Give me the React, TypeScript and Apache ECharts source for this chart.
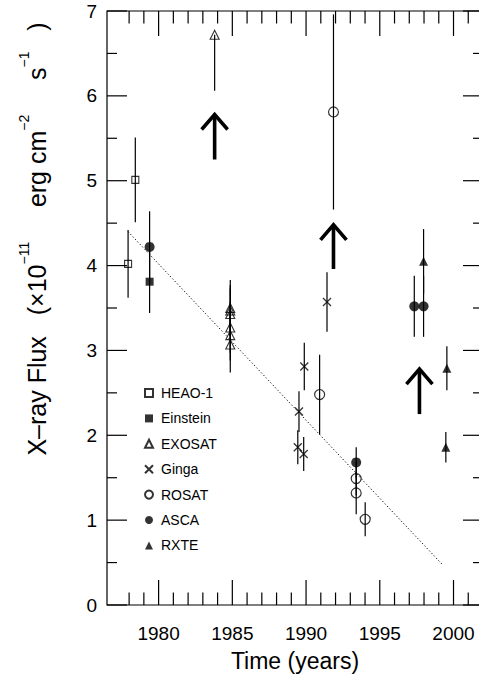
import React, { useEffect, useRef } from "react";
import * as echarts from "echarts";

const FONT = "'Liberation Sans', Arial, Helvetica, sans-serif";

const heaoYears = [1977.93, 1978.42];
const heaoValues = [4.02, 5.01];
const heaoErrors = [0.4, 0.5];

const einsteinYears = [1979.39];
const einsteinValues = [3.81];
const einsteinErrors = [0.37];

const exosatYears = [1983.8, 1984.86, 1984.86, 1984.86, 1984.86, 1984.86, 1984.86];
const exosatValues = [6.72, 3.5, 3.47, 3.43, 3.27, 3.18, 3.07];
const exosatErrors = [0.66, 0.33, 0.3, 0.3, 0.3, 0.3, 0.33];
const exosatErrorsUp = [0, 0.33, 0.3, 0.3, 0.3, 0.3, 0.33];

const gingaYears = [1991.42, 1989.88, 1989.52, 1989.44, 1989.84];
const gingaValues = [3.57, 2.81, 2.28, 1.86, 1.78];
const gingaErrors = [0.35, 0.28, 0.24, 0.2, 0.2];

const rosatYears = [1991.86, 1990.92, 1993.4, 1993.4, 1994.01];
const rosatValues = [5.81, 2.48, 1.49, 1.32, 1.01];
const rosatErrors = [1.15, 0.47, 0.2, 0.25, 0.2];

const ascaYears = [1979.39, 1993.4, 1997.34, 1997.97];
const ascaValues = [4.22, 1.68, 3.52, 3.52];
const ascaErrors = [0.42, 0.18, 0.36, 0.36];

const rxteYears = [1997.97, 1999.55, 1999.48];
const rxteValues = [4.05, 2.79, 1.86];
const rxteErrors = [0.38, 0.26, 0.18];

const arrowYears = [1983.8, 1991.86, 1997.69];
const arrowTips = [5.78, 4.48, 2.78];
const arrowTails = [5.25, 3.96, 2.25];

const trendYears = [1977.93, 1999.28];
const trendValues = [4.4, 0.47];

const X_MIN = 1976.5;
const X_MAX = 2002;
const Y_MIN = 0;
const Y_MAX = 7;
const xMajorTicks = [1980, 1985, 1990, 1995, 2000];
const xMinorTicks = [1978, 1979, 1981, 1982, 1983, 1984, 1986, 1987, 1988, 1989, 1991, 1992, 1993, 1994, 1996, 1997, 1998, 1999, 2001];
const yMajorTicks = [0, 1, 2, 3, 4, 5, 6, 7];
const yMinorTicks = [0.5, 1.5, 2.5, 3.5, 4.5, 5.5, 6.5];

const instruments = [
  { name: "HEAO-1", years: heaoYears, values: heaoValues, errors: heaoErrors, errorsUp: heaoErrors },
  { name: "Einstein", years: einsteinYears, values: einsteinValues, errors: einsteinErrors, errorsUp: einsteinErrors },
  { name: "EXOSAT", years: exosatYears, values: exosatValues, errors: exosatErrors, errorsUp: exosatErrorsUp },
  { name: "Ginga", years: gingaYears, values: gingaValues, errors: gingaErrors, errorsUp: gingaErrors },
  { name: "ROSAT", years: rosatYears, values: rosatValues, errors: rosatErrors, errorsUp: rosatErrors },
  { name: "ASCA", years: ascaYears, values: ascaValues, errors: ascaErrors, errorsUp: ascaErrors },
  { name: "RXTE", years: rxteYears, values: rxteValues, errors: rxteErrors, errorsUp: rxteErrors },
];

const HOLLOW = "rgba(0,0,0,0)";
const symbolStyles: Record<string, any> = {
  "HEAO-1": { symbol: "rect", symbolSize: 7, itemStyle: { color: HOLLOW, borderColor: "#000", borderWidth: 1.1 } },
  Einstein: { symbol: "rect", symbolSize: 8, itemStyle: { color: "#000" } },
  EXOSAT: { symbol: "triangle", symbolSize: 9, itemStyle: { color: HOLLOW, borderColor: "#000", borderWidth: 1.1 } },
  Ginga: { symbol: "path://M0,0L10,10M10,0L0,10", symbolSize: 8, itemStyle: { color: HOLLOW, borderColor: "#000", borderWidth: 1.3 } },
  ROSAT: { symbol: "circle", symbolSize: 10, itemStyle: { color: HOLLOW, borderColor: "#000", borderWidth: 1.2 } },
  ASCA: { symbol: "circle", symbolSize: 10, itemStyle: { color: "#000" } },
  RXTE: { symbol: "triangle", symbolSize: 9, itemStyle: { color: "#000" } },
};

// plot size in pixels (grid left 107, right -4, top 11, bottom 72 in a 479x677 chart)
const PLOT_W = 479 - 107 + 4;
const PLOT_H = 677 - 11 - 72;

export default function App() {
  const ref = useRef<HTMLDivElement>(null);

  useEffect(() => {
    if (!ref.current) return;
    const chart = echarts.init(ref.current, null, { renderer: "svg" });

    // tick lengths converted from pixels into axis units
    const yPerPx = (Y_MAX - Y_MIN) / PLOT_H;
    const xPerPx = (X_MAX - X_MIN) / PLOT_W;

    // vertical segments: [x, lo, hi]
    const vSegs: number[][] = [];
    instruments.forEach((ins) => {
      ins.years.forEach((yr, i) => {
        vSegs.push([yr, ins.values[i] - ins.errors[i], ins.values[i] + ins.errorsUp[i]]);
      });
    });
    [...xMajorTicks, ...xMinorTicks].forEach((v) => {
      const len = (xMajorTicks.indexOf(v) >= 0 ? 25 : 12.5) * yPerPx;
      vSegs.push([v, Y_MIN, Y_MIN + len]);
      vSegs.push([v, Y_MAX - len, Y_MAX]);
    });
    // horizontal segments: [y, lo, hi]
    const hSegs: number[][] = [];
    [...yMajorTicks, ...yMinorTicks].forEach((v) => {
      const len = (yMajorTicks.indexOf(v) >= 0 ? 20 : 10) * xPerPx;
      hSegs.push([X_MIN, X_MIN + len, v]);
      hSegs.push([X_MAX - len, X_MAX, v]);
    });

    const arrowData = arrowYears.map((yr, i) => [yr, arrowTips[i], arrowTails[i]]);
    const trendData = trendYears.map((yr, i) => [yr, trendValues[i]]);

    const option: any = {
      animation: false,
      backgroundColor: "#fff",
      textStyle: { fontFamily: FONT },
      grid: {
        left: 107,
        right: -4,
        top: 11,
        bottom: 72,
        show: true,
        borderColor: "#000",
        borderWidth: 1.2,
        backgroundColor: "transparent",
        outerBoundsMode: "none",
        containLabel: false,
      },
      xAxis: {
        type: "value",
        min: X_MIN,
        max: X_MAX,
        splitLine: { show: false },
        axisLine: { show: false },
        axisTick: { show: false },
        axisLabel: {
          show: true,
          customValues: xMajorTicks,
          formatter: (v: number) => String(v),
          fontSize: 19,
          color: "#000",
          margin: 19,
          fontFamily: FONT,
        },
        name: "Time (years)",
        nameLocation: "middle",
        nameGap: 44,
        nameTextStyle: { fontSize: 23, color: "#000", fontFamily: FONT },
      },
      yAxis: {
        type: "value",
        min: Y_MIN,
        max: Y_MAX,
        splitLine: { show: false },
        axisLine: { show: false },
        axisTick: { show: false },
        axisLabel: {
          show: true,
          customValues: yMajorTicks,
          formatter: (v: number) => String(v),
          fontSize: 19,
          color: "#000",
          margin: 10,
          fontFamily: FONT,
        },
      },
      legend: {
        orient: "vertical",
        left: 144,
        top: 385,
        padding: 0,
        itemWidth: 8,
        itemHeight: 8,
        itemGap: 9.4,
        data: instruments.map((i) => i.name),
        textStyle: { fontSize: 14, color: "#000", fontFamily: FONT, lineHeight: 16, padding: [0, 0, 0, 3] },
        selectedMode: false,
      },
      graphic: [
        {
          type: "text",
          x: 33,
          y: 239,
          rotation: Math.PI / 2,
          style: {
            text: "{n|X\u2013ray Flux   (\u00d710}{s|\u221211}{n|     erg cm}{s|\u22122}{n|     s}{s|\u22121}{n|   )}",
            align: "center",
            verticalAlign: "middle",
            fill: "#000",
            rich: {
              n: { fontSize: 25, fontFamily: FONT, fill: "#000", lineHeight: 32, verticalAlign: "bottom" },
              s: { fontSize: 14, fontFamily: FONT, fill: "#000", lineHeight: 32, verticalAlign: "top" },
            },
          },
        },
      ],
      series: [
        {
          type: "custom",
          name: "vsegments",
          z: 2,
          silent: true,
          encode: { x: 0, y: [1, 2] },
          data: vSegs,
          renderItem: (params: any, api: any) => {
            const cs = params.coordSys;
            const lo = api.coord([api.value(0), api.value(1)]);
            const hi = api.coord([api.value(0), api.value(2)]);
            const top = Math.max(hi[1], cs.y);
            const bot = Math.min(lo[1], cs.y + cs.height);
            return {
              type: "line",
              shape: { x1: lo[0], y1: bot, x2: hi[0], y2: top },
              style: { stroke: "#000", lineWidth: 1.2 },
            };
          },
        },
        {
          type: "custom",
          name: "hsegments",
          z: 2,
          silent: true,
          encode: { x: [0, 1], y: 2 },
          data: hSegs,
          renderItem: (params: any, api: any) => {
            const a = api.coord([api.value(0), api.value(2)]);
            const b = api.coord([api.value(1), api.value(2)]);
            return {
              type: "line",
              shape: { x1: a[0], y1: a[1], x2: b[0], y2: b[1] },
              style: { stroke: "#000", lineWidth: 1.2 },
            };
          },
        },
        {
          type: "custom",
          name: "limits",
          z: 3,
          silent: true,
          encode: { x: 0, y: [1, 2] },
          data: arrowData,
          renderItem: (params: any, api: any) => {
            const tip = api.coord([api.value(0), api.value(1)]);
            const tail = api.coord([api.value(0), api.value(2)]);
            return {
              type: "group",
              children: [
                {
                  type: "line",
                  shape: { x1: tip[0], y1: tip[1] + 2, x2: tail[0], y2: tail[1] },
                  style: { stroke: "#000", lineWidth: 3.6 },
                },
                {
                  type: "polyline",
                  shape: { points: [[tip[0] - 13, tip[1] + 15], [tip[0], tip[1]], [tip[0] + 13, tip[1] + 15]] },
                  style: { stroke: "#000", lineWidth: 3.6, fill: null, lineJoin: "miter" },
                },
              ],
            };
          },
        },
        {
          type: "line",
          name: "trend",
          data: trendData,
          symbol: "none",
          z: 1,
          lineStyle: { color: "#000", width: 1, type: [1.2, 2.2] },
          silent: true,
        },
        ...instruments.map((ins) => ({
          type: "scatter",
          name: ins.name,
          z: 4,
          data: ins.years.map((yr, i) => [yr, ins.values[i]]),
          ...symbolStyles[ins.name],
        })),
      ],
    };

    chart.setOption(option);
    return () => chart.dispose();
  }, []);

  return (
    <div
      ref={ref}
      style={{ position: "fixed", left: 0, top: 0, width: 479, height: 677, background: "#fff" }}
    />
  );
}
